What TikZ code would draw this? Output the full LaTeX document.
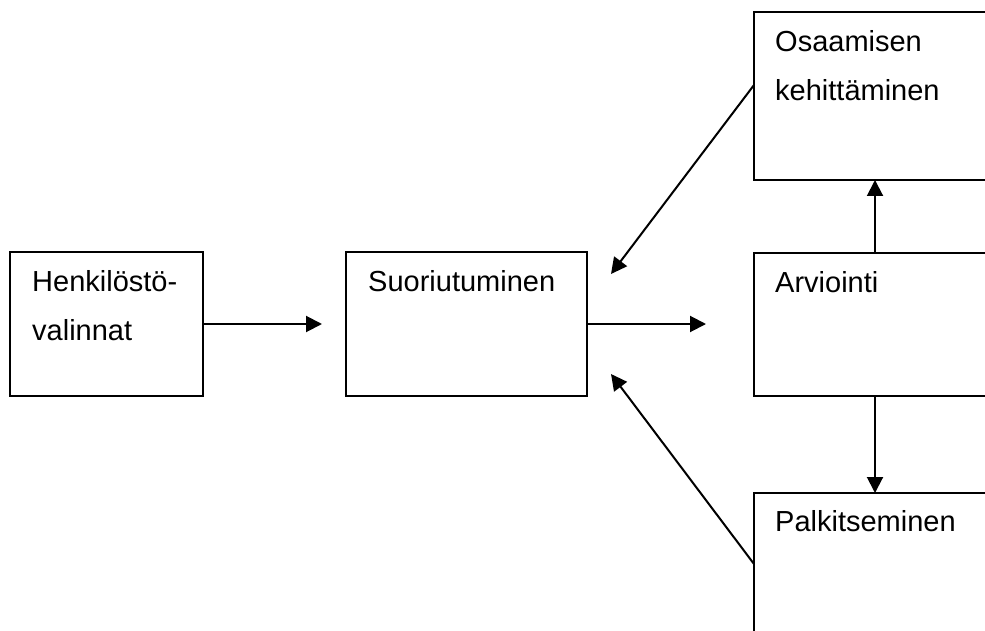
\documentclass[tikz,border=0pt]{standalone}
\usepackage{fontspec}
\setmainfont{Liberation Sans}
\usetikzlibrary{arrows.meta,calc}
\begin{document}
\begin{tikzpicture}[x=1pt,y=-1pt,
  box/.style={draw,line width=2pt,rectangle,inner sep=0pt,outer sep=0pt,anchor=north west},
  lbl/.style={anchor=base west,inner sep=0pt,align=left,font=\fontsize{29}{49}\selectfont},
  arr/.style={line width=2pt,-{Triangle[length=16pt,width=16pt]}}]
\clip (0,0) rectangle (985,631);
\fill[white] (0,0) rectangle (985,631);
\node[box,minimum width=193pt,minimum height=144pt] (h) at (10,252) {};
\node[box,minimum width=241pt,minimum height=144pt] (s) at (346,252) {};
\node[box,minimum width=242pt,minimum height=168pt] (o) at (754,12) {};
\node[box,minimum width=242pt,minimum height=143pt] (a) at (754,253) {};
\node[box,minimum width=242pt,minimum height=160pt] (p) at (754,493) {};
\node[lbl] (ht) at ($(h.north west)+(22,88)$) {Henkilöstö-\\valinnat};
\node[lbl] (st) at ($(s.north west)+(22,39)$) {Suoriutuminen};
\node[lbl] (ot) at ($(o.north west)+(21,89)$) {Osaamisen\\kehittäminen};
\node[lbl] (at) at ($(a.north west)+(21,39)$) {Arviointi};
\node[lbl] (pt) at ($(p.north west)+(21,38)$) {Palkitseminen};
\coordinate (c1) at (322,324);
\coordinate (c2) at (706,324);
\coordinate (c3) at (611,274);
\coordinate (c4) at (611,374);
\coordinate (o1) at (754,85);
\coordinate (p1) at (754,564);
\draw[arr] (h.east |- c1) -- (c1);
\draw[arr] (s.east |- c2) -- (c2);
\draw[arr] (a.north) -- (o.south);
\draw[arr] (a.south) -- (p.north);
\draw[arr] (o1) -- (c3);
\draw[arr] (p1) -- (c4);
\end{tikzpicture}
\end{document}
